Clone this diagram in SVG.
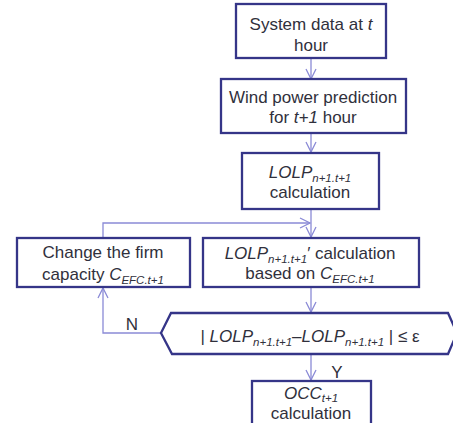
<svg xmlns="http://www.w3.org/2000/svg" width="453" height="423" viewBox="0 0 453 423">
  <style>
    .box { fill: #ffffff; stroke: #353588; stroke-width: 2.3; }
    .txt { font-family: "Liberation Sans", Arial, sans-serif; font-size: 17px; fill: #30303c; text-anchor: middle; }
    .it { font-style: italic; }
    .sub { font-size: 11.5px; font-style: italic; }
    .link { fill: none; stroke: #8a8ad6; stroke-width: 1.3; }
  </style>
  <defs>
    <marker id="arrow" viewBox="0 0 12 12" refX="11" refY="6" markerWidth="12" markerHeight="12" markerUnits="userSpaceOnUse" orient="auto">
      <path d="M1,1 L11,6 L1,11" fill="none" stroke="#8a8ad6" stroke-width="1.3"/>
    </marker>
  </defs>
  <rect width="453" height="423" fill="#ffffff"/>

  <g id="connectors">
    <line class="link" x1="311" y1="58" x2="311" y2="79" marker-end="url(#arrow)"/>
    <line class="link" x1="311" y1="133" x2="311" y2="152" marker-end="url(#arrow)"/>
    <line class="link" x1="311" y1="209" x2="311" y2="237" marker-end="url(#arrow)"/>
    <line class="link" x1="311" y1="287" x2="311" y2="312" marker-end="url(#arrow)"/>
    <line class="link" x1="311" y1="355" x2="311" y2="380" marker-end="url(#arrow)"/>
    <!-- "no" branch back to the firm capacity box -->
    <polyline class="link" points="161,333 103,333 103,288" marker-end="url(#arrow)"/>
    <!-- loop back into the recalculation -->
    <polyline class="link" points="103,238 103,223 310,223" marker-end="url(#arrow)"/>
    <text class="txt" x="132" y="330">N</text>
    <text class="txt" x="337" y="378">Y</text>
  </g>

  <g id="system-data">
    <rect class="box" x="236" y="4" width="150" height="54"/>
    <text class="txt" x="311" y="30">System data at <tspan class="it">t</tspan></text>
    <text class="txt" x="311" y="51">hour</text>
  </g>

  <g id="wind-prediction">
    <rect class="box" x="221" y="79" width="185" height="54"/>
    <text class="txt" x="313" y="103">Wind power prediction</text>
    <text class="txt" x="313" y="123">for <tspan class="it">t+1</tspan> hour</text>
  </g>

  <g id="lolp-calc">
    <rect class="box" x="242" y="153" width="137" height="56"/>
    <text class="txt" x="310" y="178"><tspan class="it">LOLP</tspan><tspan class="sub" dy="4">n+1.t+1</tspan></text>
    <text class="txt" x="310" y="198">calculation</text>
  </g>

  <g id="lolp-recalc">
    <rect class="box" x="203" y="238" width="216" height="49"/>
    <text class="txt" x="310" y="259"><tspan class="it">LOLP</tspan><tspan class="sub" dy="4">n+1.t+1</tspan><tspan dy="-4">′ calculation</tspan></text>
    <text class="txt" x="310" y="279">based on <tspan class="it">C</tspan><tspan class="sub" dy="4">EFC.t+1</tspan></text>
  </g>

  <g id="change-capacity">
    <rect class="box" x="17" y="238" width="173" height="49"/>
    <text class="txt" x="103" y="258">Change the firm</text>
    <text class="txt" x="103" y="280">capacity <tspan class="it">C</tspan><tspan class="sub" dy="4">EFC.t+1</tspan></text>
  </g>

  <g id="convergence-check">
    <polygon class="box" points="161,333 171,313 448,313 457,333 448,354 172,354"/>
    <text class="txt" x="310" y="342">| <tspan class="it">LOLP</tspan><tspan class="sub" dy="4">n+1.t+1</tspan><tspan dy="-4">–</tspan><tspan class="it">LOLP</tspan><tspan class="sub" dy="4">n+1.t+1</tspan><tspan dy="-4"> | ≤ ε</tspan></text>
  </g>

  <g id="occ-calc">
    <rect class="box" x="252" y="381" width="119" height="50"/>
    <text class="txt" x="311" y="399"><tspan class="it">OCC</tspan><tspan class="sub" dy="3">t+1</tspan></text>
    <text class="txt" x="311" y="419">calculation</text>
  </g>
</svg>
